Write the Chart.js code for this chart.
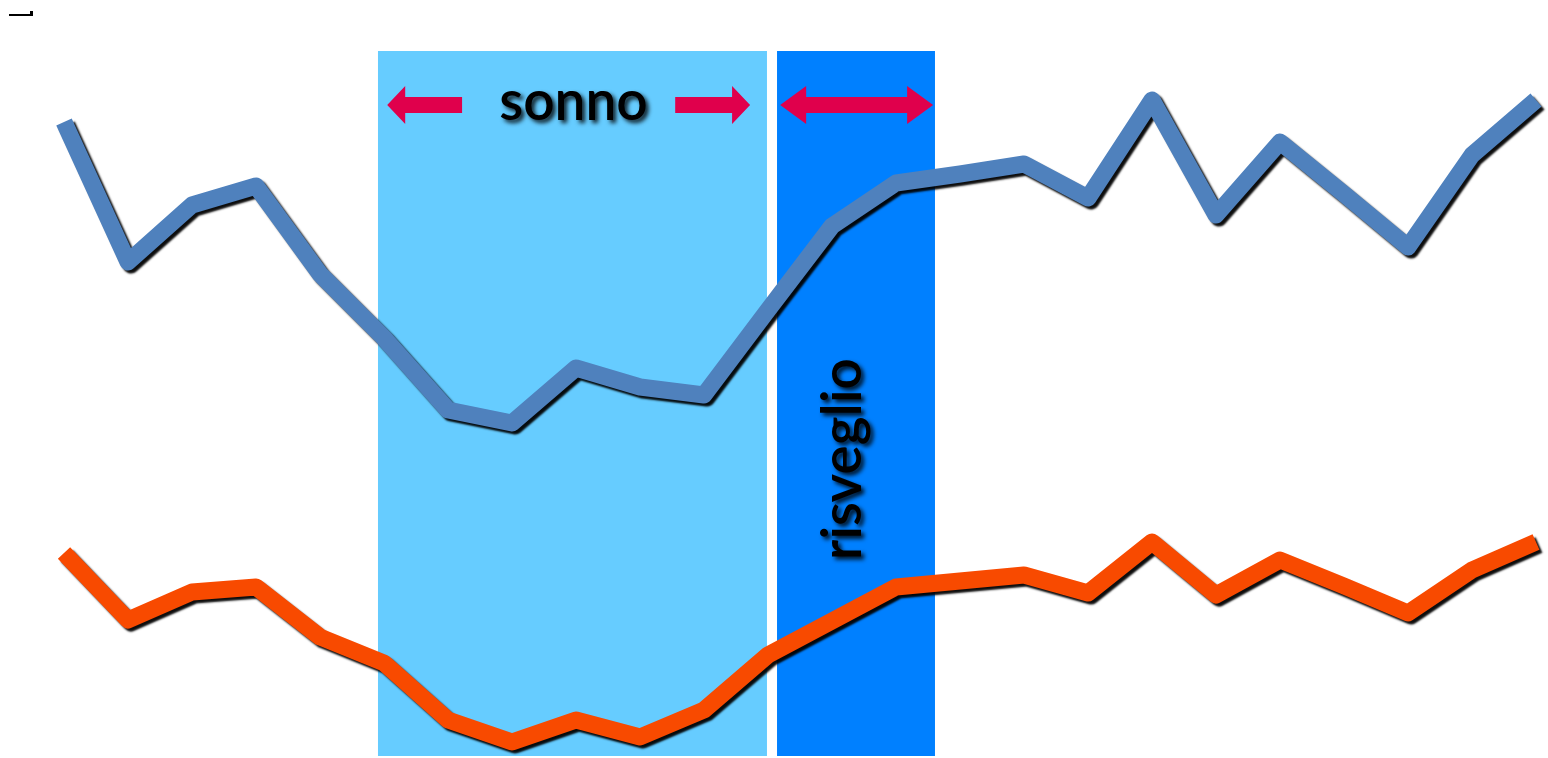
<!DOCTYPE html>
<html lang="it">
<head>
    <meta charset="UTF-8" />
    <title>Sonno e risveglio</title>
    <script src="https://cdn.jsdelivr.net/npm/chart.js"></script>
    <style>
        body {
            margin: 0;
            padding: 0;
            background-color: #ffffff;
            overflow: hidden;
        }
        .chart-box {
            position: absolute;
            left: 0;
            top: 0;
            width: 1548px;
            height: 758px;
        }
    </style>
</head>
<body>

<div class="chart-box">
    <canvas id="sleepChart"></canvas>
</div>

<script>
    // Data (y: height above the bottom edge)
    const hours = ['1', '2', '3', '4', '5', '6', '7', '8', '9', '10', '11', '12',
                   '13', '14', '15', '16', '17', '18', '19', '20', '21', '22', '23', '24'];
    const upperSeries = [636, 496, 553, 572, 484, 420, 348, 335, 390, 371, 363, 448,
                         532, 575, 584, 594, 560, 658, 543, 616, 564, 511, 603, 658];
    const lowerSeries = [205, 138, 166, 171, 121, 95, 38, 16, 38, 21, 48, 103,
                         137, 171, 177, 183, 165, 216, 163, 198, 172, 145, 188, 216];

    // Phase bands on the hour axis (index units) and their vertical span
    const bandNames = ['sonno', 'risveglio'];
    const bandStart = [4.906, 11.141];
    const bandEnd = [10.984, 13.609];
    const bandTop = 707;
    const bandBottom = 2;

    const BLUE_LINE = '#4f81bd';
    const ORANGE_LINE = '#f84a00';
    const BAND_COLORS = ['#66ccff', '#0080ff'];
    const ARROW_COLOR = '#e0004c';

    function drawArrow(ctx, x1, x2, yc, headLeft, headRight, headLen) {
        const shaft = 8, head = 19;
        ctx.beginPath();
        const l = headLeft ? x1 + headLen : x1;
        const r = headRight ? x2 - headLen : x2;
        ctx.moveTo(l, yc - shaft);
        ctx.lineTo(r, yc - shaft);
        if (headRight) {
            ctx.lineTo(r, yc - head);
            ctx.lineTo(x2, yc);
            ctx.lineTo(r, yc + head);
        }
        ctx.lineTo(r, yc + shaft);
        ctx.lineTo(l, yc + shaft);
        if (headLeft) {
            ctx.lineTo(l, yc + head);
            ctx.lineTo(x1, yc);
            ctx.lineTo(l, yc - head);
        }
        ctx.closePath();
        ctx.fill();
    }

    const overlay = {
        id: 'overlay',
        beforeDatasetsDraw(chart) {
            const { ctx, scales: { x, y } } = chart;
            ctx.save();

            // bands
            const top = y.getPixelForValue(bandTop);
            const bottom = y.getPixelForValue(bandBottom);
            bandStart.forEach((s, i) => {
                const left = x.getPixelForValue(s);
                const right = x.getPixelForValue(bandEnd[i]);
                ctx.fillStyle = BAND_COLORS[i];
                ctx.fillRect(left, top, right - left, bottom - top);
            });

            // arrows
            ctx.fillStyle = ARROW_COLOR;
            const ay = y.getPixelForValue(653);
            drawArrow(ctx, x.getPixelForValue(5.05), x.getPixelForValue(6.22), ay, true, false, 18);
            drawArrow(ctx, x.getPixelForValue(9.55), x.getPixelForValue(10.72), ay, false, true, 18);
            drawArrow(ctx, x.getPixelForValue(11.19), x.getPixelForValue(13.58), ay, true, true, 26);

            // labels with soft shadow
            ctx.fillStyle = '#000000';
            ctx.shadowColor = 'rgba(0, 0, 0, 0.85)';
            ctx.shadowBlur = 4;
            ctx.shadowOffsetX = 3;
            ctx.shadowOffsetY = 3;
            ctx.font = '600 55px Lato';
            ctx.textAlign = 'center';
            ctx.textBaseline = 'alphabetic';
            ctx.fillText(bandNames[0], x.getPixelForValue(7.96), y.getPixelForValue(638));

            ctx.save();
            ctx.translate(x.getPixelForValue(12.45), y.getPixelForValue(299));
            ctx.rotate(-Math.PI / 2);
            ctx.fillText(bandNames[1], 0, 0);
            ctx.restore();
            ctx.restore();

            // small mark in the corner
            ctx.save();
            ctx.fillStyle = '#000000';
            ctx.fillRect(9, 14, 24, 2);
            ctx.fillRect(30, 11, 3, 4);
            ctx.restore();
        },
        beforeDatasetDraw(chart) {
            const ctx = chart.ctx;
            ctx.save();
            ctx.shadowColor = 'rgba(0, 0, 0, 0.95)';
            ctx.shadowBlur = 2;
            ctx.shadowOffsetX = 3;
            ctx.shadowOffsetY = 3;
        },
        afterDatasetDraw(chart) {
            chart.ctx.restore();
        }
    };

    new Chart(document.getElementById('sleepChart').getContext('2d'), {
        type: 'line',
        data: {
            labels: hours,
            datasets: [
                { data: upperSeries, borderColor: BLUE_LINE, borderWidth: 17, pointRadius: 0,
                  tension: 0, borderJoinStyle: 'round', borderCapStyle: 'butt', clip: false },
                { data: lowerSeries, borderColor: ORANGE_LINE, borderWidth: 17, pointRadius: 0,
                  tension: 0, borderJoinStyle: 'round', borderCapStyle: 'butt', clip: false }
            ]
        },
        options: {
            responsive: true,
            maintainAspectRatio: false,
            animation: false,
            layout: { padding: { left: 64, right: 12, top: 0, bottom: 0 } },
            plugins: { legend: { display: false }, tooltip: { enabled: false }, title: { display: false } },
            scales: {
                x: { display: false, offset: false },
                y: { display: false, min: 0, max: 758 }
            }
        },
        plugins: [overlay]
    });
</script>

</body>
</html>
